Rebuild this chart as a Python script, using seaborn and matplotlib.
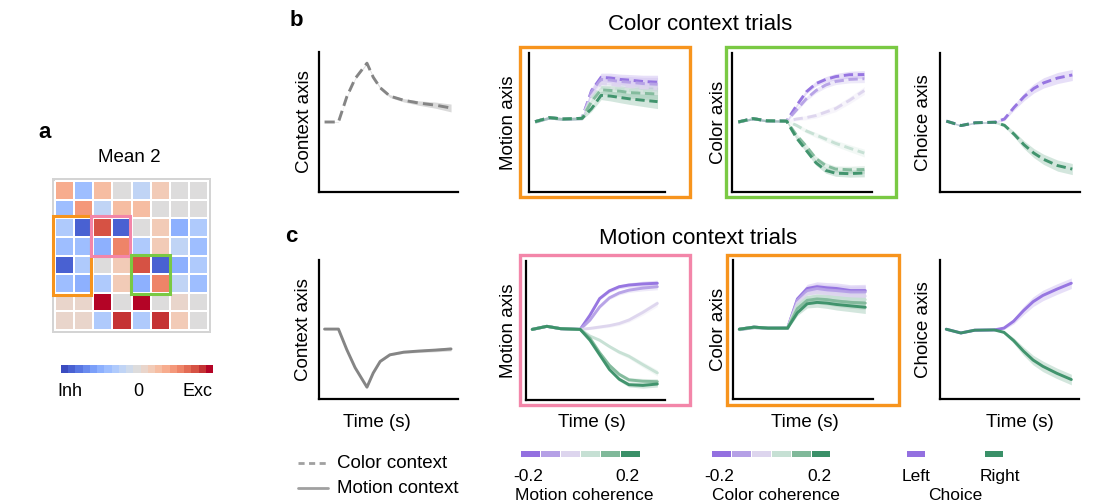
import numpy as np
import matplotlib
matplotlib.use("Agg")
import matplotlib.pyplot as plt
import seaborn as sns
from matplotlib.patches import Rectangle
from matplotlib.lines import Line2D
from matplotlib.colors import ListedColormap, Normalize
import matplotlib.colorbar as mcolorbar

sns.set_style("white")
plt.rcParams['font.family'] = ['Liberation Sans', 'DejaVu Sans']
plt.rcParams['text.color'] = 'black'
plt.rcParams['axes.labelcolor'] = 'black'

# ------------------------------------------------------------------ data
HEAT_VALUES = [
    [0.40, -0.35, 0.25, 0.00, -0.20, 0.22, 0.00, 0.00],
    [-0.35, 0.45, -0.20, 0.28, 0.28, 0.00, 0.00, 0.00],
    [-0.30, -0.90, 0.80, -0.90, 0.00, 0.15, -0.50, -0.30],
    [-0.42, -0.35, -0.50, 0.60, -0.25, 0.18, -0.22, -0.42],
    [-0.90, -0.30, 0.00, 0.15, 0.80, -0.90, -0.45, -0.30],
    [-0.35, -0.45, -0.30, 0.20, -0.45, 0.60, -0.20, -0.42],
    [0.10, 0.12, 0.95, 0.04, 0.95, 0.02, 0.10, 0.02],
    [0.08, 0.10, -0.30, 0.90, -0.30, 0.88, 0.20, 0.00],
]

CTX_TIME = [0.4, 1.4, 2.0, 2.6, 3.45, 3.9, 4.4, 5.1, 6.1, 7.2, 8.4, 9.5]
CTX_COLOR_TRIALS = [5.0, 5.0, 6.8, 8.1, 9.2, 8.2, 7.45, 6.85, 6.55, 6.35, 6.2, 6.0]
CTX_COLOR_BAND = [0.02, 0.02, 0.04, 0.05, 0.06, 0.07, 0.08, 0.1, 0.12, 0.16, 0.22, 0.28]
CTX_MOTION_TRIALS = [5.03, 5.03, 3.55, 2.25, 0.85, 1.87, 2.7, 3.18, 3.37, 3.45, 3.52, 3.6]
CTX_MOTION_BAND = [0.02, 0.02, 0.03, 0.04, 0.04, 0.05, 0.06, 0.07, 0.08, 0.1, 0.12, 0.14]

TIME = [0.45, 1.5, 2.5, 3.9, 4.6, 5.3, 6.0, 6.7, 7.4, 8.4, 9.45]
COHERENCE = ["-0.2", "-0.1", "-0.05", "0.05", "0.1", "0.2"]

# color context trials (row b); one list per coherence level (-0.2 ... 0.2)
B_MOTION = [
    [5.06, 5.35, 5.25, 5.3, 7.3, 8.25, 8.2, 8.1, 8.05, 7.95, 7.9],
    [5.06, 5.35, 5.25, 5.3, 7.2, 8.1, 8.05, 7.95, 7.9, 7.8, 7.75],
    [5.06, 5.35, 5.25, 5.3, 6.9, 7.8, 7.75, 7.65, 7.6, 7.5, 7.45],
    [5.06, 5.35, 5.25, 5.3, 6.7, 7.5, 7.45, 7.4, 7.3, 7.25, 7.2],
    [5.06, 5.35, 5.25, 5.3, 6.5, 7.35, 7.3, 7.25, 7.15, 7.1, 7.05],
    [5.06, 5.35, 5.25, 5.3, 6.0, 6.95, 6.9, 6.8, 6.7, 6.6, 6.5],
]
B_MOTION_BAND = [0.1, 0.1, 0.1, 0.1, 0.2, 0.3, 0.35, 0.38, 0.4, 0.45, 0.5]
B_COLOR = [
    [5.04, 5.28, 5.12, 5.1, 6.2, 7.2, 7.8, 8.1, 8.3, 8.44, 8.45],
    [5.04, 5.28, 5.12, 5.1, 5.9, 6.7, 7.3, 7.7, 7.95, 8.1, 8.15],
    [5.04, 5.28, 5.12, 5.1, 5.25, 5.35, 5.5, 5.75, 6.0, 6.6, 7.3],
    [5.04, 5.28, 5.12, 5.1, 4.8, 4.4, 4.1, 3.8, 3.5, 3.15, 2.8],
    [5.04, 5.28, 5.12, 5.1, 4.1, 3.3, 2.4, 1.9, 1.65, 1.6, 1.62],
    [5.04, 5.28, 5.12, 5.1, 3.9, 3.0, 2.1, 1.55, 1.35, 1.32, 1.37],
]
B_COLOR_BAND = [0.08, 0.08, 0.08, 0.08, 0.12, 0.15, 0.18, 0.2, 0.22, 0.25, 0.28]
B_CHOICE_LEFT = [5.1, 4.78, 4.98, 5.02, 5.25, 6.1, 6.85, 7.45, 7.85, 8.2, 8.42]
B_CHOICE_RIGHT = [5.1, 4.78, 4.98, 5.02, 4.8, 4.15, 3.4, 2.8, 2.35, 1.9, 1.65]
B_CHOICE_BAND = [0.06, 0.06, 0.06, 0.06, 0.12, 0.2, 0.28, 0.33, 0.37, 0.4, 0.4]

# motion context trials (row c)
C_MOTION = [
    [5.08, 5.3, 5.13, 5.08, 6.1, 7.3, 7.85, 8.15, 8.27, 8.35, 8.4],
    [5.08, 5.3, 5.13, 5.08, 5.75, 6.7, 7.35, 7.7, 7.9, 8.05, 8.15],
    [5.08, 5.3, 5.13, 5.08, 5.15, 5.25, 5.35, 5.5, 5.75, 6.3, 6.95],
    [5.08, 5.3, 5.13, 5.08, 4.6, 4.3, 3.85, 3.45, 3.15, 2.55, 1.95],
    [5.08, 5.3, 5.13, 5.08, 4.45, 3.4, 2.5, 1.85, 1.45, 1.35, 1.32],
    [5.08, 5.3, 5.13, 5.08, 4.3, 3.25, 2.2, 1.5, 1.1, 1.05, 1.15],
]
C_MOTION_BAND = [0.05, 0.05, 0.05, 0.05, 0.08, 0.1, 0.12, 0.14, 0.16, 0.2, 0.22]
C_COLOR = [
    [5.02, 5.17, 5.1, 5.1, 7.2, 7.95, 8.08, 8.0, 7.95, 7.8, 7.8],
    [5.02, 5.17, 5.1, 5.1, 7.1, 7.8, 7.95, 7.85, 7.8, 7.7, 7.7],
    [5.02, 5.17, 5.1, 5.1, 6.9, 7.55, 7.65, 7.6, 7.5, 7.4, 7.4],
    [5.02, 5.17, 5.1, 5.1, 6.7, 7.3, 7.4, 7.35, 7.3, 7.2, 7.15],
    [5.02, 5.17, 5.1, 5.1, 6.5, 7.1, 7.2, 7.15, 7.05, 6.95, 6.9],
    [5.02, 5.17, 5.1, 5.1, 6.2, 6.85, 6.95, 6.9, 6.8, 6.7, 6.6],
]
C_COLOR_BAND = [0.1, 0.1, 0.1, 0.1, 0.2, 0.3, 0.35, 0.38, 0.4, 0.42, 0.45]
C_CHOICE_LEFT = [5.02, 4.75, 4.95, 4.97, 5.1, 5.6, 6.35, 7.0, 7.45, 7.9, 8.33]
C_CHOICE_RIGHT = [5.02, 4.75, 4.95, 4.97, 4.8, 4.2, 3.45, 2.8, 2.35, 1.85, 1.4]
C_CHOICE_BAND = [0.05, 0.05, 0.05, 0.05, 0.1, 0.2, 0.3, 0.35, 0.38, 0.38, 0.38]

# ------------------------------------------------------------------ styles
COH_COLORS = ["#9370E0", "#B5A0E6", "#DDD5EE", "#C6E0D4", "#80B99A", "#3A9068"]
PURPLE, GREEN = COH_COLORS[0], COH_COLORS[-1]
GRAY = "#858585"
ORANGE, LIME, PINK = "#F7941D", "#7AC943", "#F386A9"
DASH = (0, (3.2, 1.6))

W, H = 1099, 503
fig = plt.figure(figsize=(W / 100, H / 100), dpi=100)


def fx(x):
    return x / W


def fy(y):
    return 1 - y / H


def add_ax(l, t, r, b):
    return fig.add_axes([l / W, 1 - b / H, (r - l) / W, (b - t) / H])


def style_ax(ax, ylabel, lab_off, l, r, t, b, xlabel_x=None):
    ax.set_xlim(0, 10)
    ax.set_ylim(0, 10)
    ax.set_xticks([])
    ax.set_yticks([])
    sns.despine(ax=ax)
    for s in ("left", "bottom"):
        ax.spines[s].set_color("black")
        ax.spines[s].set_linewidth(1.6)
    ax.set_ylabel(ylabel, fontsize=13.5)
    ax.yaxis.set_label_coords(-lab_off / (r - l), 0.5)
    if xlabel_x is not None:
        ax.set_xlabel("Time (s)", fontsize=13.5)
        ax.xaxis.set_label_coords((xlabel_x - l) / (r - l), -(414 - b) / (b - t))
    ax.set_facecolor("none")


def draw_lines(ax, t, series, band, colors, ls):
    for vals, c in zip(series, colors):
        v = np.array(vals)
        bw = np.array(band)
        ax.fill_between(t, v - bw, v + bw, color=c, alpha=0.22, lw=0)
    for vals, c in zip(series, colors):
        sns.lineplot(x=t, y=vals, ax=ax, color=c, lw=2.1, linestyle=ls, alpha=0.95)


def frame_box(l, t, r, b, color):
    fig.add_artist(Rectangle((fx(l), fy(b)), fx(r - l), (b - t) / H, transform=fig.transFigure,
                             fill=False, edgecolor=color, lw=2.4, zorder=0))


# ------------------------------------------------------------------ panel a
cmap = ListedColormap(matplotlib.colormaps["coolwarm"](np.linspace(0, 1, 21)))
axh = add_ax(52, 178, 211, 333)
sns.heatmap(np.array(HEAT_VALUES), ax=axh, cmap=cmap, vmin=-1, vmax=1, cbar=False,
            linewidths=1.1, linecolor="white", xticklabels=False, yticklabels=False)
axh.set_xlim(-0.18, 8.18)
axh.set_ylim(8.16, -0.16)
axh.set_facecolor("#d4d4d4")
for s in axh.spines.values():
    s.set_visible(False)
axh.add_patch(Rectangle((-0.12, 1.9), 2.0, 4.2, fill=False, edgecolor=ORANGE, lw=2.2, clip_on=False))
axh.add_patch(Rectangle((1.88, 1.9), 2.05, 2.1, fill=False, edgecolor=PINK, lw=2.2, clip_on=False))
axh.add_patch(Rectangle((3.95, 3.98), 2.1, 2.1, fill=False, edgecolor=LIME, lw=2.2, clip_on=False))
fig.text(fx(129), fy(157), "Mean 2", ha="center", va="center", fontsize=13.5)

cax = add_ax(61, 365, 213, 373)
cb = mcolorbar.ColorbarBase(cax, cmap=cmap, norm=Normalize(-1, 1), orientation="horizontal")
cb.outline.set_visible(False)
cax.set_xticks([])
for txt, x in (("Inh", 70), ("0", 138), ("Exc", 198)):
    fig.text(fx(x), fy(396), txt, ha="center", va="baseline", fontsize=13)

# ------------------------------------------------------------------ row b
ax = add_ax(319, 52, 458, 192)
ax.fill_between(CTX_TIME, np.array(CTX_COLOR_TRIALS) - np.array(CTX_COLOR_BAND),
                np.array(CTX_COLOR_TRIALS) + np.array(CTX_COLOR_BAND), color=GRAY, alpha=0.3, lw=0)
sns.lineplot(x=CTX_TIME, y=CTX_COLOR_TRIALS, ax=ax, color=GRAY, lw=2.1, linestyle=(0, (3.5, 1.8)))
style_ax(ax, "Context axis", 6, 319, 458, 52, 192)

ax = add_ax(529, 53, 665, 192)
draw_lines(ax, TIME, B_MOTION, B_MOTION_BAND, COH_COLORS, DASH)
style_ax(ax, "Motion axis", 12, 529, 665, 53, 192)
frame_box(520, 47, 690, 197, ORANGE)

ax = add_ax(732, 53, 872, 192)
draw_lines(ax, TIME, B_COLOR, B_COLOR_BAND, COH_COLORS, DASH)
style_ax(ax, "Color axis", 5, 732, 872, 53, 192)
frame_box(726, 47, 896, 197, LIME)

ax = add_ax(940, 53, 1080, 192)
draw_lines(ax, TIME, [B_CHOICE_LEFT, B_CHOICE_RIGHT], B_CHOICE_BAND, [PURPLE, GREEN], DASH)
style_ax(ax, "Choice axis", 8, 940, 1080, 53, 192)

# ------------------------------------------------------------------ row c
ax = add_ax(319, 260, 458, 399)
ax.fill_between(CTX_TIME, np.array(CTX_MOTION_TRIALS) - np.array(CTX_MOTION_BAND),
                np.array(CTX_MOTION_TRIALS) + np.array(CTX_MOTION_BAND), color=GRAY, alpha=0.3, lw=0)
sns.lineplot(x=CTX_TIME, y=CTX_MOTION_TRIALS, ax=ax, color=GRAY, lw=2.1)
style_ax(ax, "Context axis", 7, 319, 458, 260, 399, xlabel_x=377)

ax = add_ax(526, 261, 665, 400)
draw_lines(ax, TIME, C_MOTION, C_MOTION_BAND, COH_COLORS, "-")
style_ax(ax, "Motion axis", 9, 526, 665, 261, 400, xlabel_x=592)
frame_box(520, 255, 690, 405, PINK)

ax = add_ax(733, 260, 873, 399)
draw_lines(ax, TIME, C_COLOR, C_COLOR_BAND, COH_COLORS, "-")
style_ax(ax, "Color axis", 6, 733, 873, 260, 399, xlabel_x=805)
frame_box(727, 255, 899, 405, ORANGE)

ax = add_ax(940, 260, 1079, 399)
draw_lines(ax, TIME, [C_CHOICE_LEFT, C_CHOICE_RIGHT], C_CHOICE_BAND, [PURPLE, GREEN], "-")
style_ax(ax, "Choice axis", 8, 940, 1079, 260, 399, xlabel_x=1020)

# ------------------------------------------------------------------ titles / panel letters
fig.text(fx(700), fy(25), "Color context trials", ha="center", va="center", fontsize=16)
fig.text(fx(698), fy(238), "Motion context trials", ha="center", va="center", fontsize=16)
fig.text(fx(45), fy(132), "a", ha="center", va="center", fontsize=16, fontweight="bold")
fig.text(fx(296), fy(20), "b", ha="center", va="center", fontsize=16, fontweight="bold")
fig.text(fx(291), fy(237), "c", ha="center", va="center", fontsize=16, fontweight="bold")

# ------------------------------------------------------------------ legends
fig.add_artist(Line2D([fx(298), fx(328)], [fy(463), fy(463)], color="#a0a0a0", lw=2,
                      linestyle=(0, (2.2, 1.6)), transform=fig.transFigure))
fig.add_artist(Line2D([fx(298), fx(328)], [fy(488), fy(488)], color="#a0a0a0", lw=2,
                      transform=fig.transFigure))
fig.text(fx(337), fy(468), "Color context", ha="left", va="baseline", fontsize=13.5)
fig.text(fx(337), fy(493), "Motion context", ha="left", va="baseline", fontsize=13.5)


def coh_legend(x0, x1, title, tx):
    step = (x1 - x0) / 6
    for i, c in enumerate(COH_COLORS):
        fig.add_artist(Rectangle((fx(x0 + i * step), fy(457)), fx(step - 1.5), 6 / H,
                                 transform=fig.transFigure, color=c, lw=0))
    fig.text(fx(tx[0]), fy(481), COHERENCE[0], ha="center", va="baseline", fontsize=12.5)
    fig.text(fx(tx[1]), fy(481), COHERENCE[-1], ha="center", va="baseline", fontsize=12.5)
    fig.text(fx((tx[0] + tx[1]) / 2 + 7), fy(500), title, ha="center", va="baseline", fontsize=12.5)


coh_legend(521, 641, "Motion coherence", (528, 627))
coh_legend(712, 832, "Color coherence", (719, 819))

for x0, c, lab, tx in ((907, PURPLE, "Left", 916), (985, GREEN, "Right", 1000)):
    fig.add_artist(Rectangle((fx(x0), fy(457)), fx(18), 6 / H, transform=fig.transFigure, color=c, lw=0))
    fig.text(fx(tx), fy(481), lab, ha="center", va="baseline", fontsize=12.5)
fig.text(fx(955), fy(500), "Choice", ha="center", va="baseline", fontsize=12.5)

fig.savefig("out.png", dpi=100)
